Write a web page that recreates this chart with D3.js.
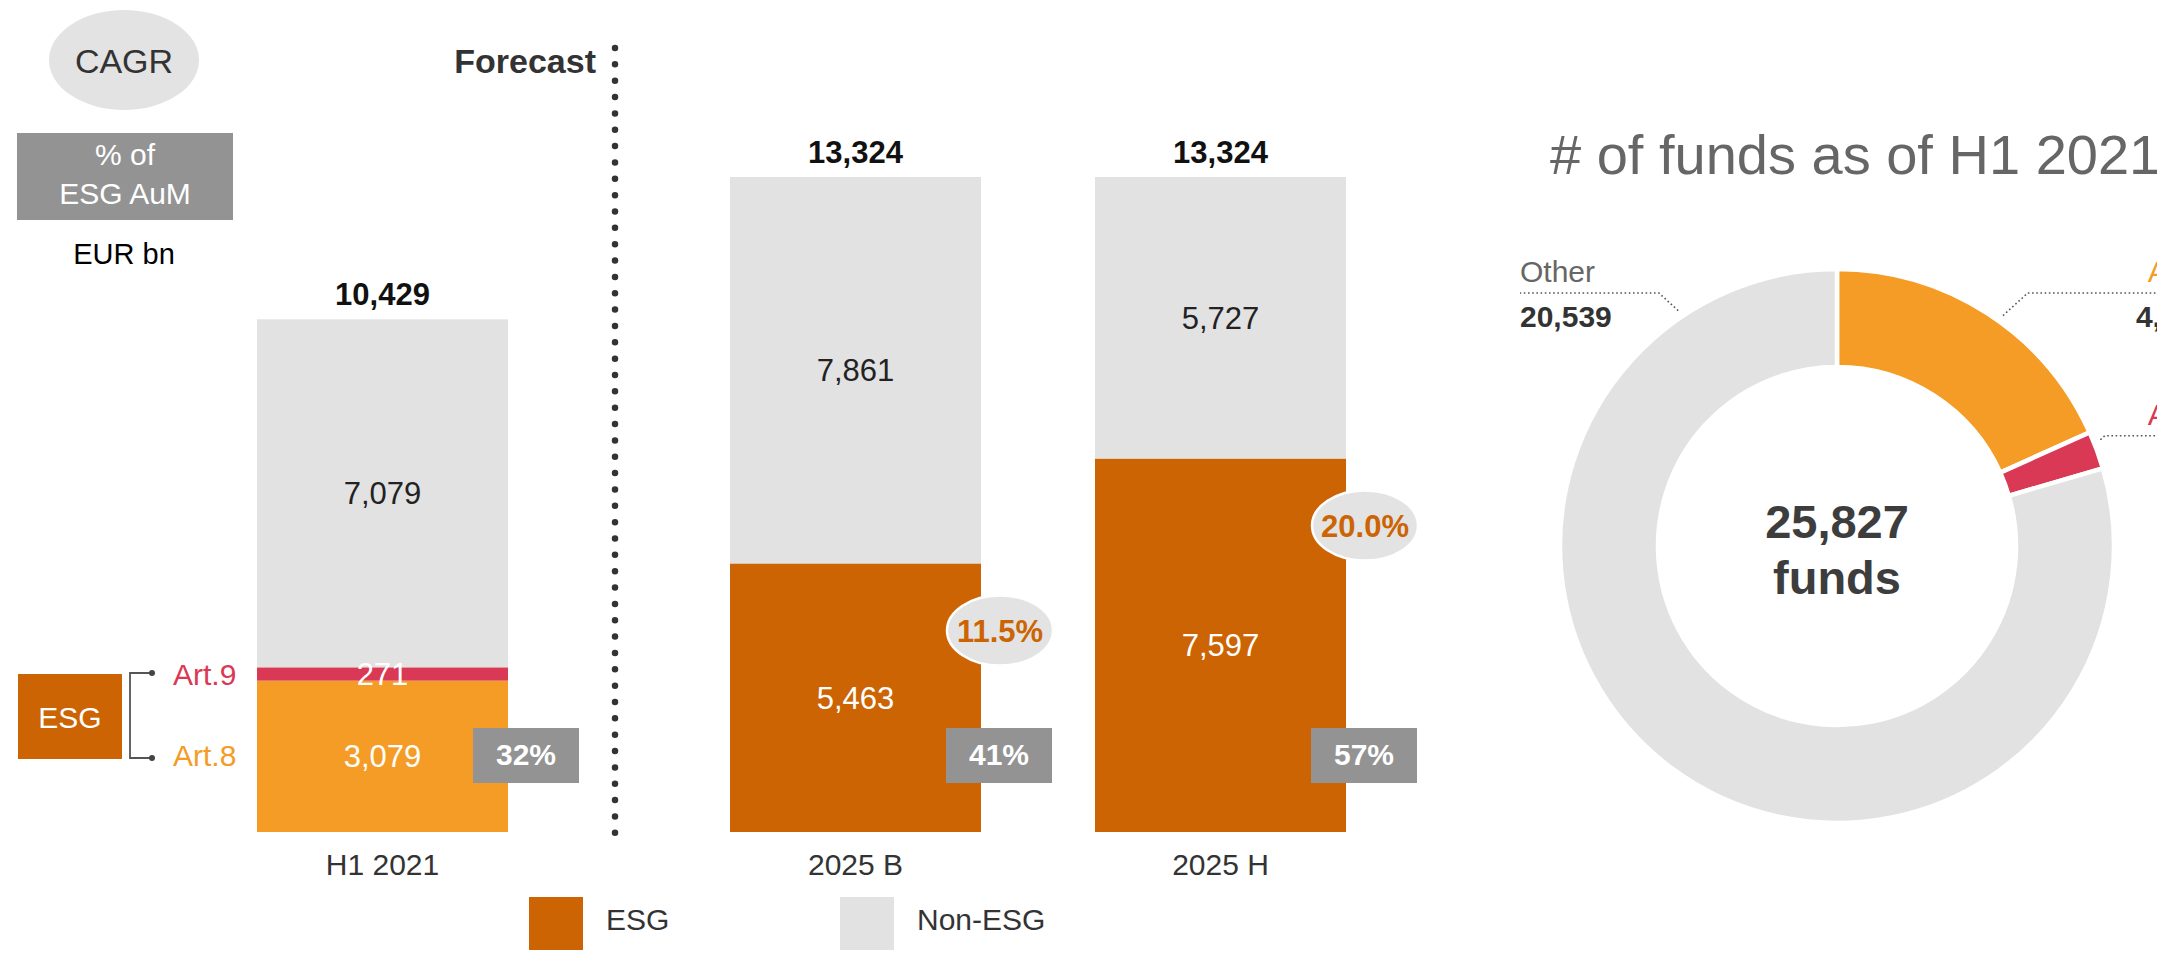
<!DOCTYPE html>
<html>
<head>
<meta charset="utf-8">
<script src="https://cdn.jsdelivr.net/npm/d3@7"></script>
<style>
  body { margin: 0; background: #fff; }
  text { font-family: "Liberation Sans", Arial, Helvetica, sans-serif; }
</style>
</head>
<body>
<script>
// bars, EUR bn
var categories = ['H1 2021', '2025 B', '2025 H']
var art8 = [3079, 0, 0]
var art9 = [271, 0, 0]
var esg = [0, 5463, 7597]
var nonEsg = [7079, 7861, 5727]
var totals = [10429, 13324, 13324]
var esgShare = ['32%', '41%', '57%']
var cagr = [null, '11.5%', '20.0%']

// donut, number of funds
var fundLabels = ['Art.8', 'Art.9', 'Other']
var fundCounts = [4720, 568, 20539]
var fundTotal = '25,827'

var W = 2157, H = 961
var C = { esg: '#cc6404', art8: '#f49c25', art9: '#d93954', non: '#e2e2e2', box: '#939393', bub: '#e3e3e3' }

var svg = d3.select('body').append('svg').attr('width', W).attr('height', H)

var rows = categories.map(function(c, i) {
  return { cat: c, art8: art8[i], art9: art9[i], esg: esg[i], nonEsg: nonEsg[i] }
})
var keys = ['art8', 'art9', 'esg', 'nonEsg']
var series = d3.stack().keys(keys)(rows)

var x = d3.scaleOrdinal().domain(categories).range([257, 730, 1095])
var bw = 251
var y = d3.scaleLinear().domain([0, 13324]).range([832, 177])
var fill = { art8: C.art8, art9: C.art9, esg: C.esg, nonEsg: C.non }
var fmt = d3.format(',')

// bars
var g = svg.append('g')
series.forEach(function(s) {
  s.forEach(function(d, i) {
    if (d[1] - d[0] <= 0) return
    g.append('rect')
      .attr('x', x(categories[i])).attr('width', bw)
      .attr('y', y(d[1])).attr('height', y(d[0]) - y(d[1]))
      .attr('fill', fill[s.key])
  })
})
// segment labels
series.forEach(function(s) {
  s.forEach(function(d, i) {
    var v = d[1] - d[0]
    if (v <= 0) return
    g.append('text')
      .attr('x', x(categories[i]) + bw / 2)
      .attr('y', (y(d[0]) + y(d[1])) / 2)
      .attr('dy', '0.36em')
      .attr('text-anchor', 'middle')
      .attr('font-size', 31)
      .attr('fill', s.key == 'nonEsg' ? '#222' : '#fff')
      .text(fmt(v))
  })
})
// totals
totals.forEach(function(t, i) {
  g.append('text').attr('x', x(categories[i]) + bw / 2).attr('y', y(t) - 14)
    .attr('text-anchor', 'middle').attr('font-size', 31).attr('font-weight', 'bold')
    .attr('fill', '#111').text(fmt(t))
  g.append('text').attr('x', x(categories[i]) + bw / 2).attr('y', 875)
    .attr('text-anchor', 'middle').attr('font-size', 30).attr('fill', '#333')
    .text(categories[i])
})
// % of ESG AuM boxes
esgShare.forEach(function(p, i) {
  var bx = x(categories[i]) + bw - 35
  g.append('rect').attr('x', bx).attr('y', 728).attr('width', 106).attr('height', 55).attr('fill', C.box)
  g.append('text').attr('x', bx + 53).attr('y', 765).attr('text-anchor', 'middle')
    .attr('font-size', 30).attr('font-weight', 'bold').attr('fill', '#fff').text(p)
})
// CAGR bubbles
cagr.forEach(function(c, i) {
  if (!c) return
  var topEsg = y(esg[i])
  var cx = x(categories[i]) + bw + 19, cy = topEsg + 67
  g.append('ellipse').attr('cx', cx).attr('cy', cy).attr('rx', 53).attr('ry', 35)
    .attr('fill', C.bub).attr('stroke', '#fff').attr('stroke-width', 2.5)
  g.append('text').attr('x', cx).attr('y', cy).attr('dy', '0.36em').attr('text-anchor', 'middle')
    .attr('font-size', 31).attr('font-weight', 'bold').attr('fill', C.esg).text(c)
})

// forecast divider
svg.append('line').attr('x1', 615).attr('x2', 615).attr('y1', 48).attr('y2', 834)
  .attr('stroke', '#333').attr('stroke-width', 6.5).attr('stroke-linecap', 'round')
  .attr('stroke-dasharray', '0 16.35')
svg.append('text').attr('x', 596).attr('y', 73).attr('text-anchor', 'end')
  .attr('font-size', 34).attr('font-weight', 'bold').attr('fill', '#333').text('Forecast')

// left key
svg.append('ellipse').attr('cx', 124).attr('cy', 60).attr('rx', 75).attr('ry', 50).attr('fill', C.bub)
svg.append('text').attr('x', 124).attr('y', 73).attr('text-anchor', 'middle').attr('font-size', 34)
  .attr('fill', '#333').text('CAGR')
svg.append('rect').attr('x', 17).attr('y', 133).attr('width', 216).attr('height', 87).attr('fill', C.box)
svg.append('text').attr('x', 125).attr('y', 165).attr('text-anchor', 'middle').attr('font-size', 30)
  .attr('fill', '#fff').text('% of')
svg.append('text').attr('x', 125).attr('y', 204).attr('text-anchor', 'middle').attr('font-size', 30)
  .attr('fill', '#fff').text('ESG AuM')
svg.append('text').attr('x', 124).attr('y', 264).attr('text-anchor', 'middle').attr('font-size', 29)
  .attr('fill', '#000').text('EUR bn')

svg.append('rect').attr('x', 18).attr('y', 674).attr('width', 104).attr('height', 85).attr('fill', C.esg)
svg.append('text').attr('x', 70).attr('y', 728).attr('text-anchor', 'middle').attr('font-size', 30)
  .attr('fill', '#fff').text('ESG')
svg.append('path').attr('d', 'M152,673 H130 V758 H152').attr('fill', 'none')
  .attr('stroke', '#555').attr('stroke-width', 1.8)
;[673, 758].forEach(function(yy) {
  svg.append('circle').attr('cx', 152).attr('cy', yy).attr('r', 3).attr('fill', '#444')
})
svg.append('text').attr('x', 173).attr('y', 685).attr('font-size', 30).attr('fill', C.art9).text('Art.9')
svg.append('text').attr('x', 173).attr('y', 766).attr('font-size', 30).attr('fill', C.art8).text('Art.8')

// legend
var legend = [{ name: 'ESG', c: C.esg, x: 529 }, { name: 'Non-ESG', c: C.non, x: 840 }]
legend.forEach(function(l) {
  svg.append('rect').attr('x', l.x).attr('y', 897).attr('width', 54).attr('height', 53).attr('fill', l.c)
  svg.append('text').attr('x', l.x + 77).attr('y', 930).attr('font-size', 30).attr('fill', '#333').text(l.name)
})

// donut
var cx = 1837, cy = 546, R = 277, r0 = 179
svg.append('text').attr('x', 1550).attr('y', 174).attr('font-size', 56).attr('fill', '#666')
  .text('# of funds as of H1 2021')

var pie = d3.pie().sort(null).value(function(d) { return d })
var arcs = pie(fundCounts)
var arc = d3.arc().innerRadius(r0).outerRadius(R)
var dg = svg.append('g').attr('transform', 'translate(' + cx + ',' + cy + ')')
var pcol = [C.art8, C.art9, C.non]
dg.selectAll('path').data(arcs).enter().append('path')
  .attr('d', arc).attr('fill', function(d, i) { return pcol[i] })
  .attr('stroke', '#fff').attr('stroke-width', 4.5)

dg.append('text').attr('y', -8).attr('text-anchor', 'middle').attr('font-size', 47)
  .attr('font-weight', 'bold').attr('fill', '#3d3d3d').text(fundTotal)
dg.append('text').attr('y', 48).attr('text-anchor', 'middle').attr('font-size', 47)
  .attr('font-weight', 'bold').attr('fill', '#3d3d3d').text('funds')

// leader lines + labels
function pt(a, rr) { return [Math.sin(a) * rr, -Math.cos(a) * rr] }
var labelAngle = [
  (arcs[0].startAngle + arcs[0].endAngle) / 2 + 0.05,
  (arcs[1].startAngle + arcs[1].endAngle) / 2 - 0.03,
  -34 * Math.PI / 180
]
var lblColor = [C.art8, C.art9, '#666']
arcs.forEach(function(a, i) {
  var p0 = pt(labelAngle[i], R + 7)
  var side = i == 2 ? -1 : 1
  var ly = i == 1 ? p0[1] - 4 : -253
  var p1 = [p0[0] + side * Math.abs(ly - p0[1]) * 1.1, ly]
  var p2 = [side == 1 ? 2211 - cx : 1520 - cx, ly]
  dg.append('path').attr('d', d3.line()([p0, p1, p2])).attr('fill', 'none')
    .attr('stroke', '#555').attr('stroke-width', 1.6).attr('stroke-dasharray', '1.6 2.6')
  var tx = p2[0], anchor = side == 1 ? 'end' : 'start'
  dg.append('text').attr('x', tx).attr('y', ly - 11).attr('text-anchor', anchor)
    .attr('font-size', 30).attr('fill', lblColor[i]).text(fundLabels[i])
  dg.append('text').attr('x', tx).attr('y', ly + 34).attr('text-anchor', anchor)
    .attr('font-size', 30).attr('font-weight', 'bold').attr('fill', '#333').text(fmt(fundCounts[i]))
})
</script>
</body>
</html>
